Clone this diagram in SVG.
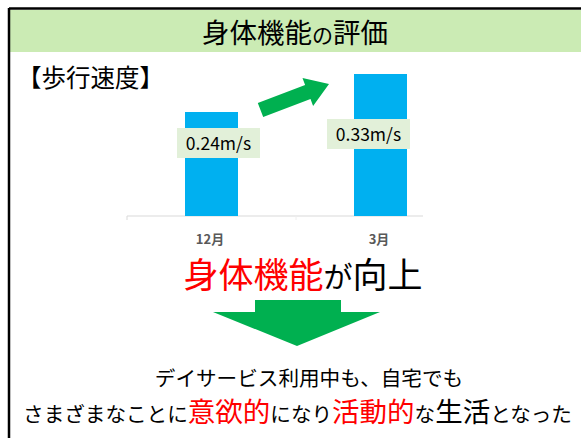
<svg xmlns="http://www.w3.org/2000/svg" width="581" height="438" viewBox="0 0 581 438">
<style>
.jp{font-family:"Noto Sans CJK JP","Noto Sans",sans-serif;}
.red{fill:#FF0000;}
.blk{fill:#000000;}
.lbl{fill:#E2F0D9;}
.bar{fill:#00B0F0;}
.grn{fill:#00B050;}
</style>
<rect x="0" y="0" width="581" height="438" fill="#FFFFFF"/>
<g id="header">
<rect x="10" y="10" width="571" height="42" fill="#CBEBB4"/>
<text class="jp blk" x="295" y="43" font-size="27.5" text-anchor="middle">身体機能<tspan font-size="21">の</tspan>評価</text>
</g>
<g id="frame">
<line x1="9" y1="8.5" x2="581" y2="8.5" stroke="#000" stroke-width="2.5"/>
<line x1="9" y1="8" x2="9" y2="438" stroke="#000" stroke-width="2.5"/>
</g>
<g id="title-walk">
<text class="jp blk" x="17" y="87" font-size="24.5">【歩行速度】</text>
</g>
<g id="chart">
<line x1="127" y1="216" x2="423" y2="216" stroke="#D9D9D9" stroke-width="1"/>
<line x1="127" y1="216" x2="127" y2="220" stroke="#D9D9D9" stroke-width="1"/>
<line x1="296" y1="216" x2="296" y2="220" stroke="#EEEEEE" stroke-width="1"/>
<g id="bar-dec">
<rect class="bar" x="185" y="112" width="53" height="104"/>
<rect class="lbl" x="177" y="128" width="83" height="30"/>
<text class="jp blk" x="218.5" y="149.5" font-size="17.5" text-anchor="middle">0.24m/s</text>
<text class="jp" x="210" y="244" font-size="13" font-weight="bold" fill="#595959" text-anchor="middle">12月</text>
</g>
<g id="bar-mar">
<rect class="bar" x="354" y="74" width="53" height="142"/>
<rect class="lbl" x="327" y="119" width="83" height="30"/>
<text class="jp blk" x="368.5" y="140.5" font-size="17.5" text-anchor="middle">0.33m/s</text>
<text class="jp" x="379" y="244" font-size="13" font-weight="bold" fill="#595959" text-anchor="middle">3月</text>
</g>
</g>
<g id="connectors">
<polygon class="grn" points="257.8,103 305.1,85 302.5,78 329,84 313.1,106 310.5,99 263.2,117"/>
<polygon class="grn" points="255,300 341,300 341,312 380,312 297,346 213,312 255,312"/>
</g>
<g id="result">
<text class="jp" x="303" y="288" font-size="35" text-anchor="middle"><tspan class="red">身体機能</tspan><tspan class="blk" font-size="29">が</tspan><tspan class="blk">向上</tspan></text>
</g>
<g id="summary">
<text class="jp blk" x="309" y="386" font-size="20.6" text-anchor="middle">デイサービス利用中も、自宅でも</text>
<text class="jp blk" x="297.5" y="422" font-size="20.6" text-anchor="middle">さまざまなことに<tspan class="red" font-size="27.5">意欲的</tspan>になり<tspan class="red" font-size="27.5">活動的</tspan>な<tspan font-size="27.5">生活</tspan>となった</text>
</g>
</svg>
